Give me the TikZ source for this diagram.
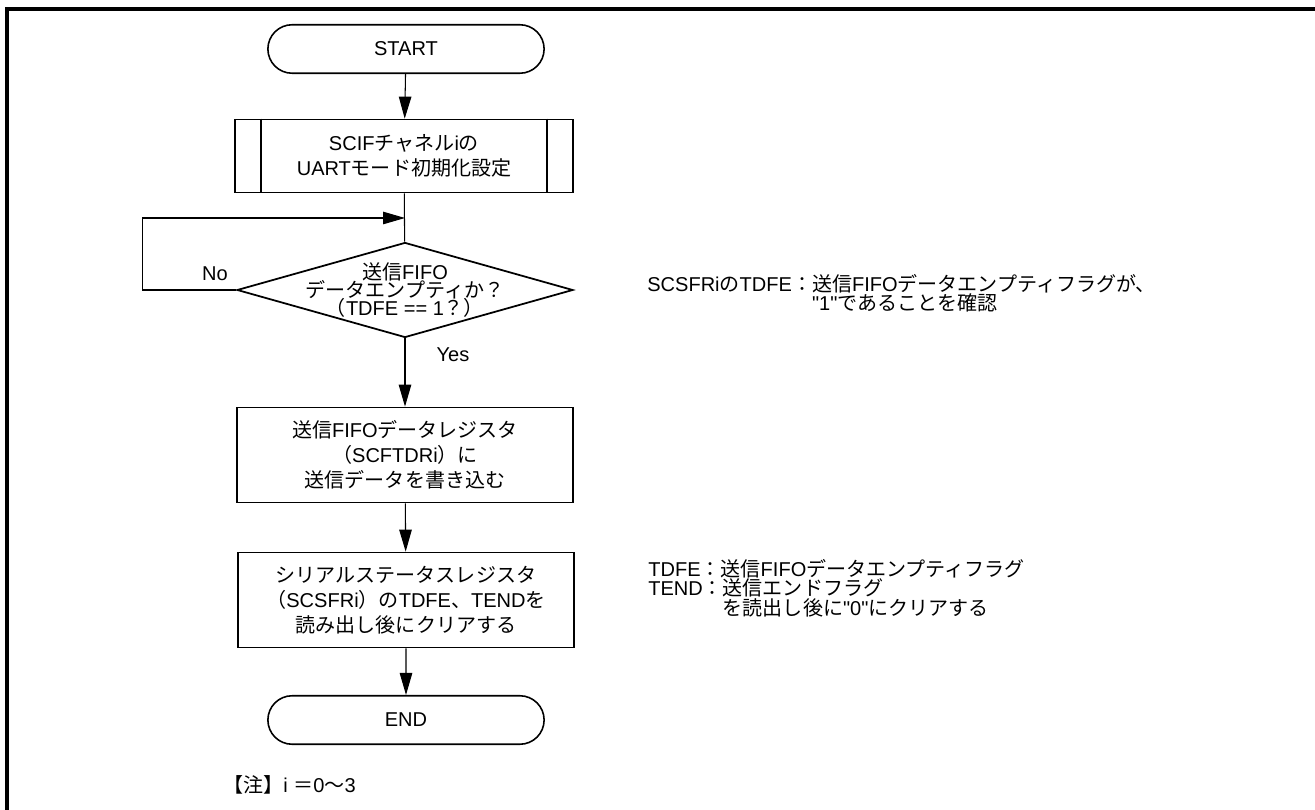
\documentclass[tikz,border=0pt]{standalone}
\usepackage{fontspec}
\newfontfamily\lafont{Liberation Sans}
\newfontfamily\jpfont{Noto Sans CJK JP}
\usetikzlibrary{shapes.geometric,shapes.misc,arrows.meta}
% switch to the Japanese font for CJK characters
\XeTeXinterchartokenstate=1
\newXeTeXintercharclass\jpclass
\newcount\jpcnt
\def\setjprange#1#2{\jpcnt=#1\relax
	\loop\XeTeXcharclass\jpcnt=\jpclass\advance\jpcnt by 1\relax\ifnum\jpcnt<#2\repeat}
\setjprange{"3000}{"3100}
\setjprange{"4E00}{"A000}
\setjprange{"FF00}{"FFF0}
\XeTeXinterchartoks 0 \jpclass = {\jpfont}
\XeTeXinterchartoks 4095 \jpclass = {\jpfont}
\XeTeXinterchartoks \jpclass 0 = {\lafont}
\newcommand\tightfont{\lafont\fontsize{11.4}{10.4}\selectfont\lineskiplimit-8pt\relax}
\newcommand\notefont{\lafont\fontsize{11.4}{11}\selectfont\lineskiplimit-8pt\relax}

\begin{document}
\begin{tikzpicture}[x=0.02cm,y=-0.02cm,
		font=\lafont\fontsize{11.4}{14.2}\selectfont,
		term/.style={rounded rectangle,draw,line width=0.9pt,minimum width=5.76cm,minimum height=0.97cm},
		proc/.style={rectangle,draw,line width=1pt,minimum width=6.72cm,minimum height=1.9cm,align=center,inner sep=0pt},
		subr/.style={proc,minimum width=6.76cm,minimum height=1.46cm},
		dec/.style={diamond,draw,line width=1pt,minimum width=6.72cm,minimum height=1.9cm,inner sep=0pt},
		arr/.style={-{Triangle[length=4.4mm,width=2.5mm]},line width=0.6pt},
		note/.style={anchor=west,align=left,inner sep=0pt}]
		\useasboundingbox (0,0) rectangle (1315,810);
		\draw[line width=2.3pt] (7,810) -- (7,9) -- (1315,9);
		% flow
		\node[term] (start) at (406,49) {START};
		\node[subr] (init) at (404,156) {SCIFチャネルiの\\UARTモード初期化設定};
		\draw[line width=1pt] ([xshift=0.53cm]init.north west) -- ([xshift=0.53cm]init.south west);
		\draw[line width=1pt] ([xshift=-0.53cm]init.north east) -- ([xshift=-0.53cm]init.south east);
		\node[dec] (chk) at (405,290) {};
		\node[font=\tightfont,align=center] (chktxt) at (chk) {送信FIFO\\データエンプティか？\\（TDFE == 1？）};
		\node[proc] (wr) at (405,455) {送信FIFOデータレジスタ\\（SCFTDRi）に\\送信データを書き込む};
		\node[proc] (clr) at (406,600) {シリアルステータスレジスタ\\（SCSFRi）のTDFE、TENDを\\読み出し後にクリアする};
		\node[term] (end) at (406,720) {END};
		\coordinate (jn) at (405,218);
		\draw[arr] (start) -- (init);
		\draw[line width=0.6pt] (init) -- (chk);
		\draw[arr] (chk.west) -- ++(-94,0) |- (jn);
		\draw[arr] (chk) -- (wr);
		\draw[arr] (wr) -- (clr);
		\draw[arr] (clr) -- (end);
		\node (no) at (215,274) {No};
		\node (yes) at (453,355) {Yes};
		% notes
		\node[note,font=\notefont] (n1) at (647,293) {SCSFRiのTDFE：送信FIFOデータエンプティフラグが、\\\hphantom{SCSFRiのTDFE：}"1"であることを確認};
		\node[note,font=\notefont] (n2) at (648,588) {TDFE：送信FIFOデータエンプティフラグ\\TEND：送信エンドフラグ\\\hphantom{TEND：}を読出し後に"0"にクリアする};
		\node[note] (fn) at (223,785) {【注】i ＝0～3};
	\end{tikzpicture}
\end{document}
